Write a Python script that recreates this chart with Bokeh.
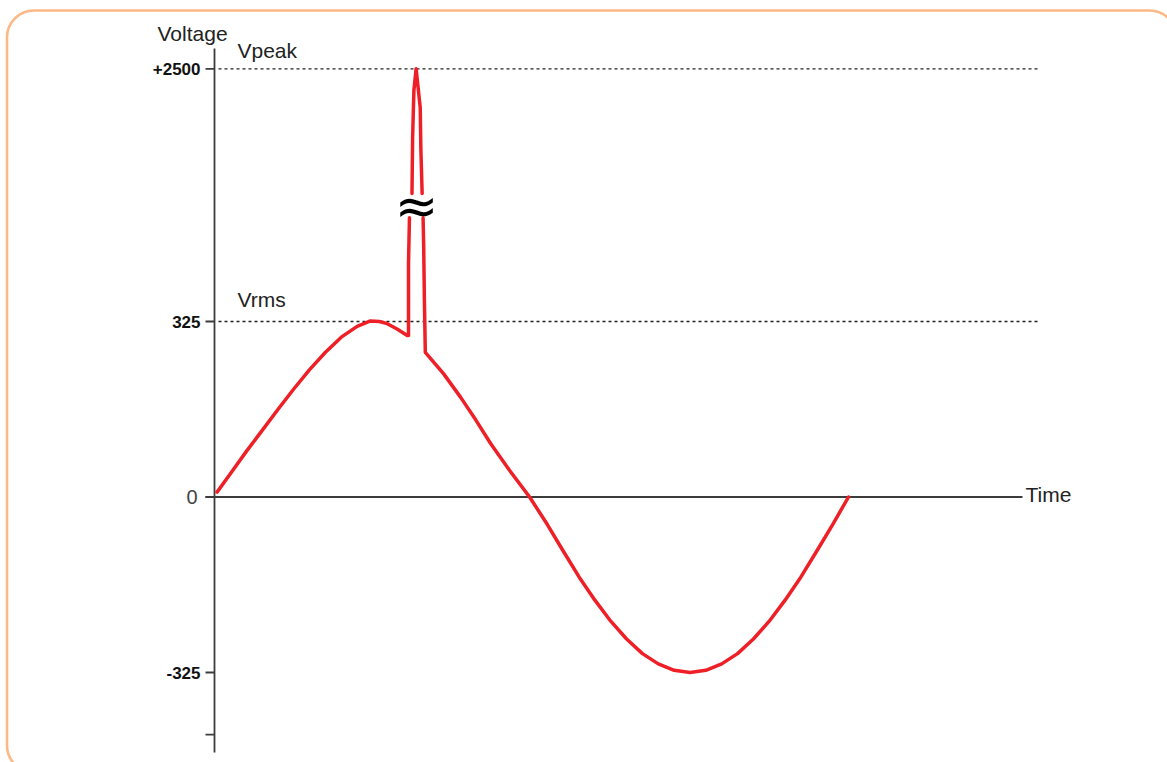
from bokeh.plotting import figure
from bokeh.models import BoxAnnotation, Range1d
from bokeh.core.properties import value
from bokeh.embed import file_html
from bokeh.resources import INLINE

# ---------------- data (time in ms, voltage in V) ----------------
rise_t = [0.08, 0.5, 1.0, 1.5, 2.0, 2.5, 3.0, 3.5, 4.0, 4.5, 4.92, 5.2, 5.45, 5.76, 6.08,
          6.12, 6.12, 6.15]
rise_v = [9, 43, 84, 123, 162, 200, 236, 268, 296, 316, 326, 325, 321, 311, 299,
          299, 432, 517]

spike_t = [6.23, 6.25, 6.29, 6.36, 6.40, 6.49, 6.51, 6.55]
spike_v = [710, 1514, 2188, 2500, 2329, 1942, 1353, 710]

fall_t = [6.58, 6.60, 6.62, 6.65, 7.23, 7.76, 8.25, 8.71, 9.3, 9.94, 10.5, 11.0, 11.5, 12.0,
          12.5, 13.0, 13.5, 14.0, 14.5, 15.0, 15.5, 16.0, 16.5, 17.0, 17.5, 18.0, 18.5,
          19.0, 19.5, 20.0]
fall_v = [517, 462, 368, 268, 228, 185, 142, 99, 50, 0, -51, -100, -148, -191,
          -230, -263, -290, -309, -321, -325, -321, -309, -290, -263, -230, -191, -148,
          -100, -51, 0]

tick_values = [2500, 325, 0, -325, -440]
tick_labels = ["+2500", "325", "0", "-325", ""]
ref_levels = [2500, 325]          # Vpeak, Vrms dotted lines
ref_names = ["Vpeak", "Vrms"]

# ---------------- broken y scale ----------------
BREAK_AT = 540.0
BREAK_TOP = 2500.0
BREAK_TOP_POS = 793.0


def shown(v):
    if v <= BREAK_AT:
        return v
    return BREAK_AT + (v - BREAK_AT) * (BREAK_TOP_POS - BREAK_AT) / (BREAK_TOP - BREAK_AT)


# pixel layout helpers (page px -> data)
PX0, PXS = 214.0, 31.7      # x of t=0, px per ms
PY0, PYS = 496.5, 0.54      # y of V=0, px per V


def tx(px):
    return (px - PX0) / PXS


def vy(py):
    return (PY0 - py) / PYS


W, H = 1167, 762
p = figure(width=W, height=H, output_backend="svg", toolbar_location=None,
           x_range=Range1d(tx(0), tx(W)), y_range=Range1d(vy(H), vy(0)),
           x_axis_location=None, y_axis_location=None, min_border=0,
           outline_line_color=None, background_fill_color="white",
           border_fill_color="white")
p.grid.visible = False

# rounded frame
p.add_layout(BoxAnnotation(left=tx(6.5), right=tx(1176), top=vy(10), bottom=vy(772),
                           border_radius=27, fill_color=None, fill_alpha=0,
                           line_color="#FDB886", line_alpha=1.0, line_width=2.6))

AX = "#3c3c3c"
# axes
p.segment(x0=[0], y0=[vy(752)], x1=[0], y1=[vy(48)], line_color=AX, line_width=1.8)
p.segment(x0=[tx(205)], y0=[0], x1=[tx(1022)], y1=[0], line_color=AX, line_width=1.8)
tick_y = [shown(v) for v in tick_values]
p.segment(x0=[tx(205)] * len(tick_y), y0=tick_y, x1=[0] * len(tick_y), y1=tick_y,
          line_color=AX, line_width=1.8)

# dotted reference lines
ref_y = [shown(v) for v in ref_levels]
p.segment(x0=[tx(218)] * 2, y0=ref_y, x1=[tx(1040)] * 2, y1=ref_y,
          line_color="#222222", line_width=1.3, line_dash="3 3")

# waveform
RED = "#EE1F26"
for ts, vs in ((rise_t, rise_v), (spike_t, spike_v), (fall_t, fall_v)):
    p.line(x=ts, y=[shown(v) for v in vs], line_color=RED, line_width=3.5,
           line_join="round", line_cap="round")

# break symbol
p.text(x=[tx(416)], y=[vy(205)], text=["\u2248"], text_font=value("DejaVu Sans"),
       text_font_size="52px", text_align="center", text_baseline="middle",
       text_color="#000000")

# tick labels
bold_i = [i for i, l in enumerate(tick_labels) if l and l != "0"]
p.text(x=[tx(200)] * len(bold_i), y=[tick_y[i] for i in bold_i],
       text=[tick_labels[i] for i in bold_i], text_font=value("Liberation Sans"),
       text_font_size="17px", text_font_style="bold", text_align="right",
       text_baseline="middle", text_color="#111111")
zero_i = tick_labels.index("0")
p.text(x=[tx(197)], y=[tick_y[zero_i]], text=["0"], text_font=value("Liberation Sans"),
       text_font_size="20px", text_align="right", text_baseline="middle",
       text_color="#444444")

# titles
p.text(x=[tx(157), tx(1025)], y=[vy(32.5), vy(493.5)], text=["Voltage", "Time"],
       text_font=value("Liberation Sans"), text_font_size="21px",
       text_baseline="alphabetic", text_align="left", text_color="#222222")
p.text(x=[tx(237)] * 2, y=[vy(50.2), vy(299.2)], text=ref_names,
       text_font=value("Liberation Sans"), text_font_size="21px",
       text_baseline="alphabetic", text_align="left", text_color="#222222")

open("out.html", "w").write(file_html(p, INLINE))
